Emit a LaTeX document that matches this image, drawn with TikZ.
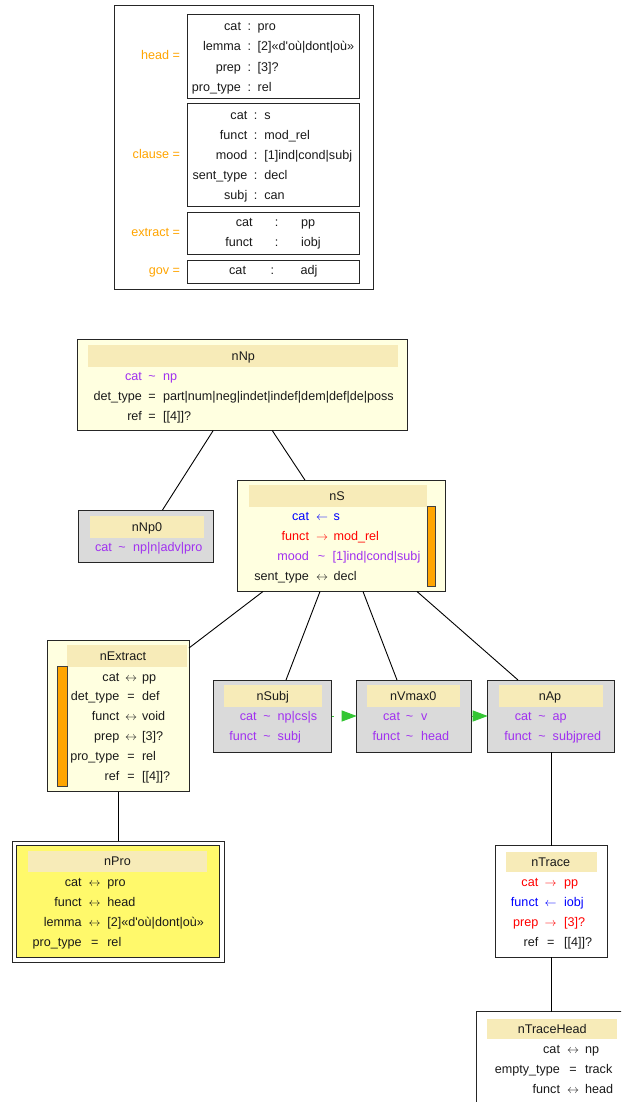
\documentclass[tikz,border=0pt]{standalone}
\usepackage{fontspec}
\setmainfont{Liberation Sans}
\usetikzlibrary{arrows.meta,calc}
\definecolor{lyel}{HTML}{FFFFE0}
\definecolor{hdr}{HTML}{F7EBB8}
\definecolor{gbox}{HTML}{DADADA}
\definecolor{ybox}{HTML}{FFF96B}
\definecolor{orng}{HTML}{FFA500}
\definecolor{purp}{HTML}{A030F0}
\definecolor{txt}{HTML}{1A1A1A}
\definecolor{grn}{HTML}{33C633}
\tikzset{
  ft/.style={font=\fontsize{12.6}{14}\selectfont, inner sep=0pt, outer sep=0pt, text=txt},
  bx/.style={rectangle, draw=black!85, line width=1pt, inner sep=0pt, outer sep=0pt},
  hdband/.style={fill=hdr, draw=none},
  barbox/.style={fill=orng, draw=black!75, line width=0.8pt},
  edgeline/.style={draw=black, line width=0.9pt},
  garrow/.style={draw=grn, line width=0.9pt, dash pattern=on 2.5pt off 9pt, -{Triangle[length=15pt,width=11pt,fill=grn]}},
}
% box node from corners
\newcommand\bnode[6]{\node[bx,#6,minimum width={(#4)-(#2)},minimum height={(#5)-(#3)}] (#1) at ({((#2)+(#4))/2},{((#3)+(#5))/2}) {};}
% feature row: name, y, label right, op x, value left, label, op, value, colour
\newcommand\frow[9]{%
\node[ft,text=#9,anchor=base east] (#1l) at (#3,#2+4.3) {#6};
\node[ft,text=#9,anchor=base] (#1o) at (#4,#2+4.3) {#7};
\node[ft,text=#9,anchor=base west] (#1v) at (#5,#2+4.3) {#8};}
% header: name, x1,y1,x2,y2, text x, text
\newcommand\hdr[7]{\fill[hdband] (#2,#3) rectangle (#4,#5);
\node[ft,anchor=base] (#1) at (#6,{((#3)+(#5))/2+4.3}) {#7};}
\newcommand\tq{\textquotesingle}
\newcommand\La{$\leftarrow$}
\newcommand\Ra{$\rightarrow$}
\newcommand\LRa{$\leftrightarrow$}
\begin{document}
\begin{tikzpicture}[x=1pt,y=-1pt]
\useasboundingbox (0,0) rectangle (621,1102);
\fill[white] (0,0) rectangle (621,1102);
\clip (0,0) rectangle (621,1102);

% ---------- legend box ----------
\bnode{legend}{114}{5.5}{373}{289.5}{}
\bnode{headbox}{187}{14.5}{359}{99}{}
\bnode{clausebox}{187}{104}{359}{206.5}{}
\bnode{extractbox}{187}{212}{359}{254.5}{}
\bnode{govbox}{187}{260}{359}{283}{}
\node[ft,text=orng,anchor=base east] (lhead) at (180,55+4.3) {head =};
\node[ft,text=orng,anchor=base east] (lclause) at (180,154.5+4.3) {clause =};
\node[ft,text=orng,anchor=base east] (lextract) at (180,232.3+4.3) {extract =};
\node[ft,text=orng,anchor=base east] (lgov) at (180,270+4.3) {gov =};
\frow{h1}{26}{241}{249.3}{257.7}{cat}{:}{pro}{txt}
\frow{h2}{46.7}{241}{249.3}{257.7}{lemma}{:}{[2]«d\tq où|dont|où»}{txt}
\frow{h3}{67}{241}{249.3}{257.7}{prep}{:}{[3]?}{txt}
\frow{h4}{87.3}{241}{249.3}{257.7}{pro\_type}{:}{rel}{txt}
\frow{c1}{115}{247.3}{255.7}{264.3}{cat}{:}{s}{txt}
\frow{c2}{135}{247.3}{255.7}{264.3}{funct}{:}{mod\_rel}{txt}
\frow{c3}{155}{247.3}{255.7}{264.3}{mood}{:}{[1]ind|cond|subj}{txt}
\frow{c4}{175}{247.3}{255.7}{264.3}{sent\_type}{:}{decl}{txt}
\frow{c5}{195}{247.3}{255.7}{264.3}{subj}{:}{can}{txt}
\frow{e1}{222.3}{252.7}{276.7}{301}{cat}{:}{pp}{txt}
\frow{e2}{242.3}{252.7}{276.7}{301}{funct}{:}{iobj}{txt}
\frow{g1}{270}{246}{272.3}{300.7}{cat}{:}{adj}{txt}

% ---------- nNp ----------
\bnode{nNp}{77.5}{339.5}{407}{430.5}{fill=lyel}
\hdr{nNph}{88.3}{345}{398.3}{366.7}{243.3}{nNp}
\frow{np1}{376.5}{142}{152}{163}{cat}{\textasciitilde}{np}{purp}
\frow{np2}{396}{142}{152}{163}{det\_type}{=}{part|num|neg|indet|indef|dem|def|de|poss}{txt}
\frow{np3}{416}{142}{152}{163}{ref}{=}{[[4]]?}{txt}

% ---------- nNp0 ----------
\bnode{nNp0}{78.5}{510}{213}{562.5}{fill=gbox}
\hdr{nNp0h}{90}{516}{204}{537.7}{147}{nNp0}
\frow{n01}{546.7}{112}{122}{133}{cat}{\textasciitilde}{np|n|adv|pro}{purp}

% ---------- nS ----------
\bnode{nS}{237.5}{480}{445.7}{591.5}{fill=lyel}
\hdr{nSh}{249}{485}{427.3}{506.7}{337}{nS}
\draw[barbox] (427.3,506.7) rectangle (435.5,586.7);
\frow{s1}{516}{309}{322}{333.5}{cat}{\La}{s}{blue}
\frow{s2}{536}{309}{322}{333.5}{funct}{\Ra}{mod\_rel}{red}
\frow{s3}{556}{309}{321.5}{332.5}{mood}{\textasciitilde}{[1]ind|cond|subj}{purp}
\frow{s4}{575.7}{309}{322}{333.5}{sent\_type}{\LRa}{decl}{txt}

% ---------- nExtract ----------
\bnode{nExtract}{47.3}{640}{189}{791.7}{fill=lyel}
\hdr{nExh}{67.3}{645}{186.7}{667.3}{123}{nExtract}
\draw[barbox] (57.3,666.7) rectangle (67.3,786.7);
\frow{x1}{676.7}{119.3}{131}{142}{cat}{\LRa}{pp}{txt}
\frow{x2}{696}{119.3}{131}{142}{det\_type}{=}{def}{txt}
\frow{x3}{716}{119.3}{131}{142}{funct}{\LRa}{void}{txt}
\frow{x4}{736}{119.3}{131}{142}{prep}{\LRa}{[3]?}{txt}
\frow{x5}{755.7}{119.3}{131}{142}{pro\_type}{=}{rel}{txt}
\frow{x6}{775.7}{119.3}{131}{142}{ref}{=}{[[4]]?}{txt}

% ---------- nSubj, nVmax0, nAp ----------
\bnode{nSubj}{213.3}{680}{331.7}{752}{fill=gbox}
\hdr{nSubjh}{224}{685}{321.7}{706.7}{272.7}{nSubj}
\frow{sb1}{716}{256.7}{267}{277.7}{cat}{\textasciitilde}{np|cs|s}{purp}
\frow{sb2}{736}{256.7}{267}{277.7}{funct}{\textasciitilde}{subj}{purp}

\bnode{nVmax0}{356.7}{680}{471.7}{752}{fill=gbox}
\hdr{nVh}{367.3}{685}{460}{706.7}{413.3}{nVmax0}
\frow{v1}{716}{400}{409.5}{421}{cat}{\textasciitilde}{v}{purp}
\frow{v2}{736}{400}{409.5}{421}{funct}{\textasciitilde}{head}{purp}

\bnode{nAp}{487.7}{680}{614.3}{752}{fill=gbox}
\hdr{nAph}{499}{685}{602.7}{706.7}{550}{nAp}
\frow{a1}{716}{531.7}{542}{552.7}{cat}{\textasciitilde}{ap}{purp}
\frow{a2}{736}{531.7}{542}{552.7}{funct}{\textasciitilde}{subjpred}{purp}

% ---------- nPro ----------
\bnode{nPro}{12.5}{841}{224}{962}{fill=white}
\bnode{nProIn}{16.8}{845.2}{219.8}{957.8}{fill=ybox}
\hdr{nProh}{28.3}{851}{206.7}{872.3}{117.5}{nPro}
\frow{p1}{881.7}{81.7}{94.7}{107.3}{cat}{\LRa}{pro}{txt}
\frow{p2}{901.7}{81.7}{94.7}{107.3}{funct}{\LRa}{head}{txt}
\frow{p3}{922.3}{81.7}{94.7}{107.3}{lemma}{\LRa}{[2]«d\tq où|dont|où»}{txt}
\frow{p4}{942.3}{81.7}{94.7}{107.3}{pro\_type}{=}{rel}{txt}

% ---------- nTrace ----------
\bnode{nTrace}{495.3}{845.7}{607.3}{957.3}{fill=white}
\hdr{nTrh}{506}{851.7}{596.7}{872.3}{550.7}{nTrace}
\frow{t1}{882.3}{538.3}{550.7}{564}{cat}{\Ra}{pp}{red}
\frow{t2}{902.3}{538.3}{550.7}{564}{funct}{\La}{iobj}{blue}
\frow{t3}{922.3}{538.3}{550.7}{564}{prep}{\Ra}{[3]?}{red}
\frow{t4}{941.7}{538.3}{550.7}{564}{ref}{=}{[[4]]?}{txt}

% ---------- nTraceHead ----------
\bnode{nTraceHead}{476}{1011.7}{627}{1115}{fill=white}
\hdr{nTHh}{486.7}{1019}{616.7}{1039.3}{552.2}{nTraceHead}
\frow{th1}{1049}{560}{573}{585}{cat}{\LRa}{np}{txt}
\frow{th2}{1069}{560}{573}{585}{empty\_type}{=}{track}{txt}
\frow{th3}{1088.7}{560}{573}{585}{funct}{\LRa}{head}{txt}

% ---------- edges ----------
\draw[edgeline] (nNp) -- (nNp0);
\draw[edgeline] (nNp) -- (nS);
\draw[edgeline] ($(nS.south west)+(25.5,0)$) -- ($(nExtract.north east)+(0,8)$);
\draw[edgeline] ($(nS.south west)+(82.5,0)$) -- ($(nSubj.north west)+(72.7,0)$);
\draw[edgeline] ($(nS.south west)+(125.5,0)$) -- ($(nVmax0.north west)+(40.3,0)$);
\draw[edgeline] ($(nS.south west)+(179.5,0)$) -- ($(nAp.north west)+(30.3,0)$);
\draw[edgeline] (nExtract.south) -- (nExtract.south |- nPro.north);
\draw[edgeline] (nAp.south) -- (nAp.south |- nTrace.north);
\draw[edgeline] (nTrace.south) -- (nTrace.south |- nTraceHead.north);
\draw[garrow] (nSubj) -- (nVmax0);
\draw[garrow] (nVmax0) -- (nAp);
\end{tikzpicture}
\end{document}
